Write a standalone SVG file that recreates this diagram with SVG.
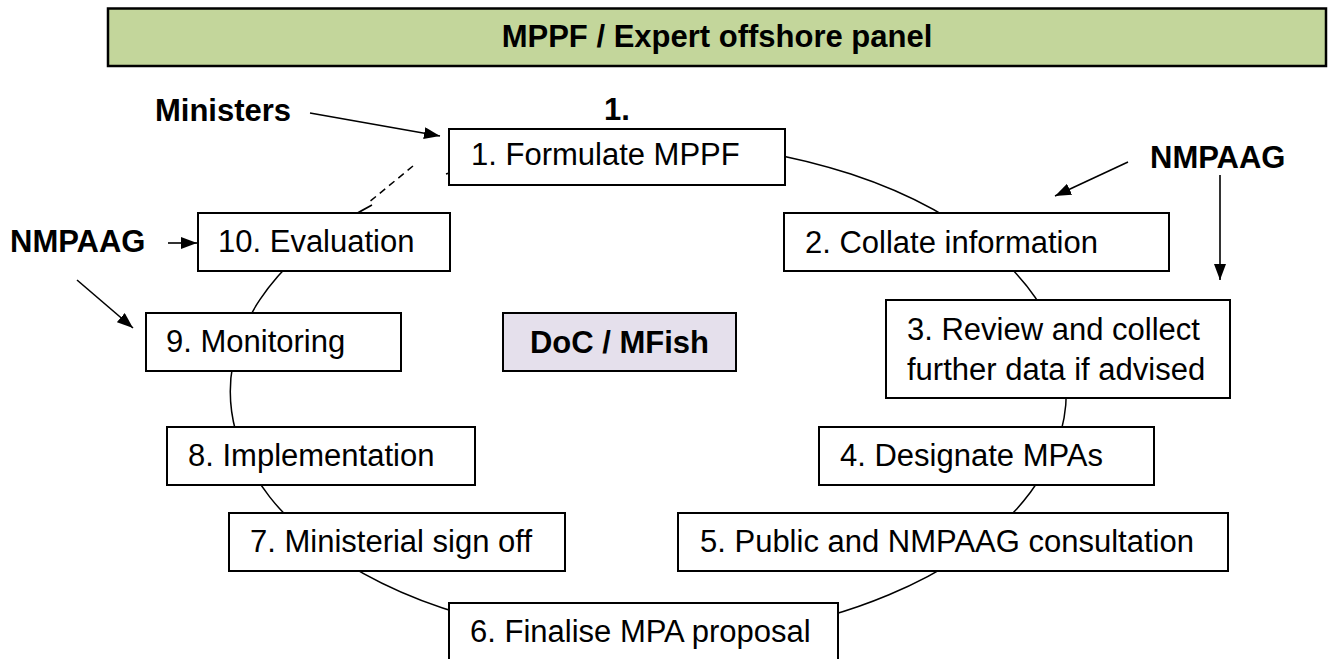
<svg xmlns="http://www.w3.org/2000/svg" width="1336" height="659" viewBox="0 0 1336 659">
<style>
.box{fill:#fff;stroke:#000;stroke-width:2}
.t{font-family:"Liberation Sans",Arial,sans-serif;font-size:31px;fill:#000}
.b{font-family:"Liberation Sans",Arial,sans-serif;font-size:31px;font-weight:bold;fill:#000}
.arr{stroke:#000;stroke-width:1.6;fill:none;marker-end:url(#ah)}
.cyc{stroke:#000;stroke-width:1.5;fill:none}
</style>
<defs>
<marker id="ah" viewBox="0 0 16 12" refX="16" refY="6" markerWidth="16" markerHeight="12" markerUnits="userSpaceOnUse" orient="auto">
<path d="M0,0 L16,6 L0,12 Z" fill="#000"/>
</marker>
</defs>
<rect width="1336" height="659" fill="#fff"/>
<g id="connectors">
<path class="cyc" d="M 446 174 A 418 248.6 0 1 1 372 205"/>
<path class="cyc" d="M 413 166 L 368 203" stroke-dasharray="7,5"/>
<path class="arr" d="M 310 113 L 440 136"/>
<path class="arr" d="M 1128 162 L 1055 196"/>
<path class="arr" d="M 1220 175 L 1220 280"/>
<path class="arr" d="M 168 243 L 197 243"/>
<path class="arr" d="M 77 280 L 133 328"/>
</g>
<g id="banner">
<rect x="108" y="8.5" width="1218" height="57.5" fill="#c3d69b" stroke="#000" stroke-width="2.5"/>
<text class="b" x="717" y="47" text-anchor="middle">MPPF / Expert offshore panel</text>
</g>
<g id="label-ministers"><text class="b" x="155" y="121">Ministers</text></g>
<g id="label-one"><text class="b" x="617" y="120" text-anchor="middle">1.</text></g>
<g id="label-nmpaag-right"><text class="b" x="1150" y="168">NMPAAG</text></g>
<g id="label-nmpaag-left"><text class="b" x="10" y="252">NMPAAG</text></g>
<g id="n1"><rect class="box" x="449" y="129" width="336" height="56"/><text class="t" x="471" y="165">1. Formulate MPPF</text></g>
<g id="n2"><rect class="box" x="784" y="213" width="385" height="58"/><text class="t" x="805" y="253">2. Collate information</text></g>
<g id="n3"><rect class="box" x="886" y="300" width="344" height="98"/><text class="t" x="907" y="340">3. Review and collect</text><text class="t" x="907" y="380">further data if advised</text></g>
<g id="n4"><rect class="box" x="819" y="427" width="335" height="58"/><text class="t" x="840" y="466">4. Designate MPAs</text></g>
<g id="n5"><rect class="box" x="678" y="513" width="550" height="58"/><text class="t" x="700" y="552">5. Public and NMPAAG consultation</text></g>
<g id="n6"><rect class="box" x="449" y="603" width="389" height="60"/><text class="t" x="470" y="642">6. Finalise MPA proposal</text></g>
<g id="n7"><rect class="box" x="229" y="513" width="336" height="58"/><text class="t" x="250" y="552">7. Ministerial sign off</text></g>
<g id="n8"><rect class="box" x="167" y="427" width="308" height="58"/><text class="t" x="188" y="466">8. Implementation</text></g>
<g id="n9"><rect class="box" x="146" y="313" width="255" height="58"/><text class="t" x="166" y="352">9. Monitoring</text></g>
<g id="n10"><rect class="box" x="198" y="213" width="252" height="58"/><text class="t" x="218" y="252">10. Evaluation</text></g>
<g id="doc"><rect x="503" y="313" width="233" height="58" fill="#e5e0ec" stroke="#000" stroke-width="2"/><text class="b" x="619.5" y="353" text-anchor="middle">DoC / MFish</text></g>
</svg>
